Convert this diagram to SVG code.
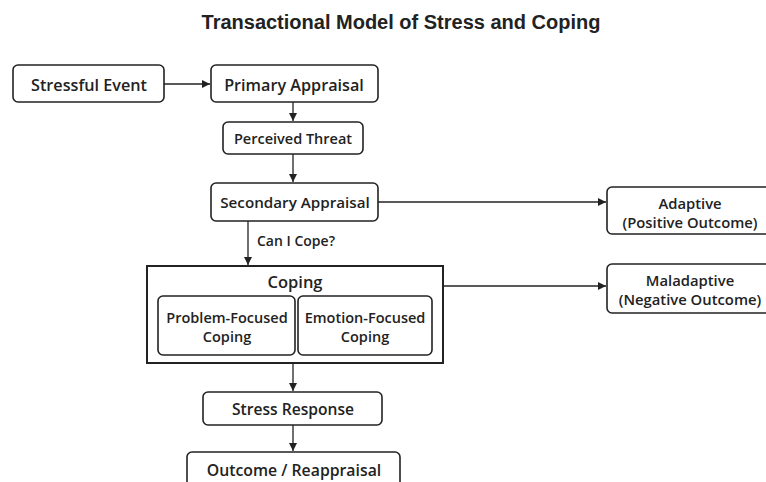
<svg xmlns="http://www.w3.org/2000/svg" width="766" height="482" viewBox="0 0 766 482">
<style>
.bg{fill:#fff}
.box{fill:#fff;stroke:#222;stroke-width:1.6}
.outer{fill:#fff;stroke:#222;stroke-width:2}
.t{font-family:"Open Sans","Noto Sans",sans-serif;font-weight:600;font-size:14.5px;fill:#222;text-anchor:middle;dominant-baseline:central}
.lbl{font-family:"Open Sans","Noto Sans",sans-serif;font-weight:600;font-size:14px;fill:#222}
.title{font-family:"Liberation Sans",Arial,sans-serif;font-weight:bold;font-size:20px;fill:#222;text-anchor:middle}
.c{stroke:#222;stroke-width:1.3;fill:none;marker-end:url(#ah)}
</style>
<defs>
<marker id="ah" viewBox="0 0 10 10" refX="10" refY="5" markerWidth="8" markerHeight="8" markerUnits="userSpaceOnUse" orient="auto">
<path d="M0,0 L10,5 L0,10 z" fill="#222"/>
</marker>
</defs>
<rect class="bg" width="766" height="482"/>
<text class="title" x="401" y="29">Transactional Model of Stress and Coping</text>
<g id="connectors">
<line class="c" x1="164" y1="84" x2="210" y2="84"/>
<line class="c" x1="293" y1="102" x2="293" y2="121"/>
<line class="c" x1="293" y1="154" x2="293" y2="182"/>
<line class="c" x1="378" y1="202" x2="606" y2="202"/>
<line class="c" x1="248" y1="221" x2="248" y2="265"/>
<text class="lbl" x="257" y="246">Can I Cope?</text>
<line class="c" x1="443" y1="286" x2="606" y2="286"/>
<line class="c" x1="293" y1="364" x2="293" y2="391"/>
<line class="c" x1="293" y1="425" x2="293" y2="451"/>
</g>
<g id="stressful-event">
<rect class="box" x="13" y="65" width="151" height="37" rx="5"/>
<text class="t" x="89" y="85" style="font-size:16.2px">Stressful Event</text>
</g>
<g id="primary-appraisal">
<rect class="box" x="211" y="65" width="167" height="37" rx="5"/>
<text class="t" x="294" y="85" style="font-size:16.2px">Primary Appraisal</text>
</g>
<g id="perceived-threat">
<rect class="box" x="223" y="122" width="140" height="32" rx="5"/>
<text class="t" x="293" y="138" style="font-size:14.5px">Perceived Threat</text>
</g>
<g id="secondary-appraisal">
<rect class="box" x="211" y="183" width="167" height="38" rx="5"/>
<text class="t" x="295" y="202" style="font-size:15.2px">Secondary Appraisal</text>
</g>
<g id="coping">
<rect class="outer" x="147" y="266" width="296" height="97"/>
<text class="t" x="295" y="281" style="font-size:16.5px">Coping</text>
</g>
<g id="problem-focused">
<rect class="box" x="158" y="296" width="137" height="59" rx="5"/>
<text class="t" x="227" y="317">Problem-Focused</text>
<text class="t" x="227" y="336">Coping</text>
</g>
<g id="emotion-focused">
<rect class="box" x="298" y="296" width="134" height="59" rx="5"/>
<text class="t" x="365" y="317">Emotion-Focused</text>
<text class="t" x="365" y="336">Coping</text>
</g>
<g id="adaptive">
<rect class="box" x="607" y="187" width="166" height="47" rx="5"/>
<text class="t" x="690" y="203" style="font-size:14.8px">Adaptive</text>
<text class="t" x="690" y="222" style="font-size:14.8px">(Positive Outcome)</text>
</g>
<g id="maladaptive">
<rect class="box" x="607" y="264" width="166" height="49" rx="5"/>
<text class="t" x="690" y="280" style="font-size:14.8px">Maladaptive</text>
<text class="t" x="690" y="299" style="font-size:14.8px">(Negative Outcome)</text>
</g>
<g id="stress-response">
<rect class="box" x="203" y="392" width="179" height="33" rx="5"/>
<text class="t" x="293" y="409" style="font-size:15.6px">Stress Response</text>
</g>
<g id="outcome">
<rect class="box" x="187" y="452" width="213" height="40" rx="5"/>
<text class="t" x="294" y="470" style="font-size:15.8px">Outcome / Reappraisal</text>
</g>
</svg>
